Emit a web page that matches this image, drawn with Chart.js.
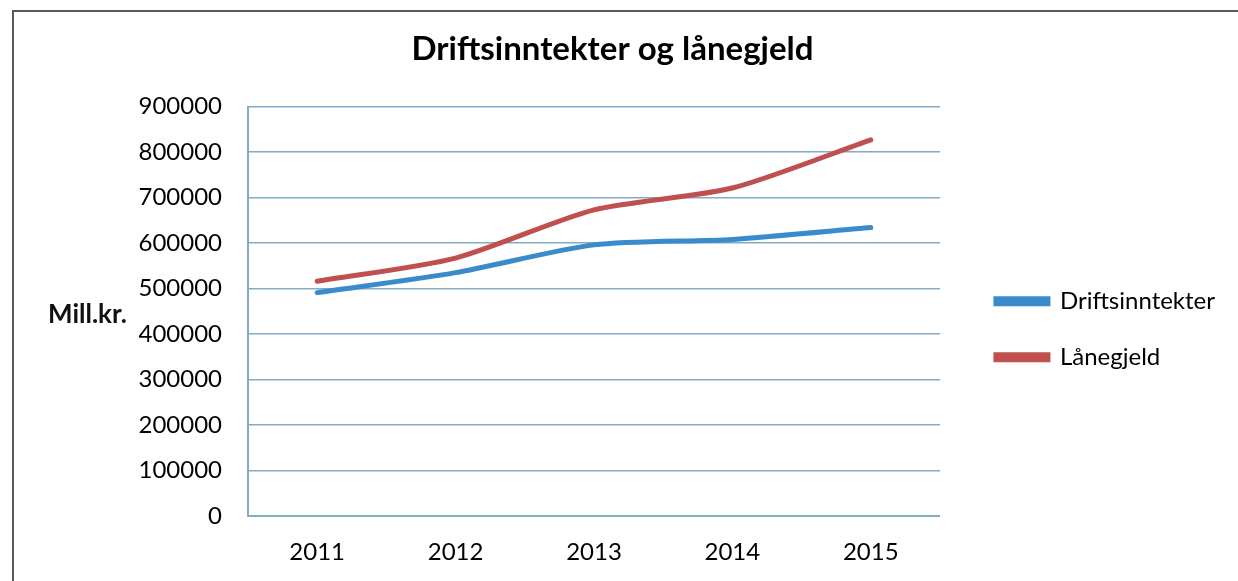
<!DOCTYPE html>
<html lang="no">
  <head>
    <meta charset="UTF-8" />
    <title>Driftsinntekter og lånegjeld</title>
    <script src="https://cdn.jsdelivr.net/npm/chart.js"></script>
    <style>
      html, body { margin: 0; padding: 0; background: #fff; }
      #wrap { position: relative; width: 1238px; height: 581px; }
      #frame {
        position: absolute; left: 12px; top: 10px; right: 0; bottom: 0;
        border-left: 2px solid #5a5a5a; border-top: 2px solid #5a5a5a;
        pointer-events: none;
      }
    </style>
  </head>
  <body>
    <div id="wrap">
      <canvas id="chart" width="1238" height="581"></canvas>
      <div id="frame"></div>
    </div>

    <script>
      const years = ["2011", "2012", "2013", "2014", "2015"];
      const driftsinntekter = [491000, 535000, 596000, 608000, 634000];
      const lanegjeld = [516000, 567000, 673000, 721000, 827000];
      const yTitle = "Mill.kr.";

      // horizontal y-axis title, Excel style
      const yTitlePlugin = {
        id: "yTitle",
        afterDraw(chart) {
          const { ctx, chartArea } = chart;
          ctx.save();
          ctx.font = "bold 26px Lato";
          ctx.fillStyle = "#111";
          ctx.textAlign = "left";
          ctx.textBaseline = "middle";
          ctx.fillText(yTitle, 48, (chartArea.top + chartArea.bottom) / 2 + 3);
          ctx.restore();
        },
      };

      const gridColor = "#82abc4";
      const tickFont = { family: "Lato", size: 24 };

      new Chart(document.getElementById("chart"), {
        type: "line",
        data: {
          labels: years,
          datasets: [
            {
              label: "Driftsinntekter",
              data: driftsinntekter,
              borderColor: "#3a8bcb",
              backgroundColor: "#3a8bcb",
              borderWidth: 5,
              borderCapStyle: "round",
              pointRadius: 0,
              tension: 0.25,
            },
            {
              label: "Lånegjeld",
              data: lanegjeld,
              borderColor: "#bf504d",
              backgroundColor: "#bf504d",
              borderWidth: 5,
              borderCapStyle: "round",
              pointRadius: 0,
              tension: 0.25,
            },
          ],
        },
        options: {
          responsive: false,
          animation: false,
          layout: { padding: { left: 0, right: 13, top: 0, bottom: 15 } },
          plugins: {
            title: {
              display: true,
              text: "Driftsinntekter og lånegjeld",
              color: "#000",
              font: { family: "Lato", size: 33, weight: "bold" },
              padding: { top: 30, bottom: 37 },
            },
            legend: {
              position: "right",
              title: { display: true, text: "", padding: { top: 78, bottom: 0 }, font: { size: 12 } },
              labels: {
                color: "#000",
                font: { family: "Lato", size: 24 },
                boxWidth: 52,
                boxHeight: 5,
                padding: 32,
              },
            },
            tooltip: { enabled: false },
          },
          scales: {
            x: {
              offset: true,
              grid: { display: false, drawTicks: false },
              border: { color: gridColor, width: 2 },
              ticks: { color: "#000", padding: 22, font: tickFont },
              afterFit(scale) { scale.height = 50; },
            },
            y: {
              min: 0,
              max: 900000,
              ticks: {
                stepSize: 100000,
                color: "#000",
                padding: 26,
                font: tickFont,
                callback: (v) => String(v),
              },
              grid: { color: gridColor, lineWidth: 1.5, drawTicks: false },
              border: { color: gridColor, width: 2 },
              afterFit(scale) { scale.width = 248; },
            },
            // empty gap between plot and legend
            gap: {
              position: "right",
              display: false,
              afterFit(scale) { scale.width = 24; },
            },
          },
        },
        plugins: [yTitlePlugin],
      });
    </script>
  </body>
</html>
